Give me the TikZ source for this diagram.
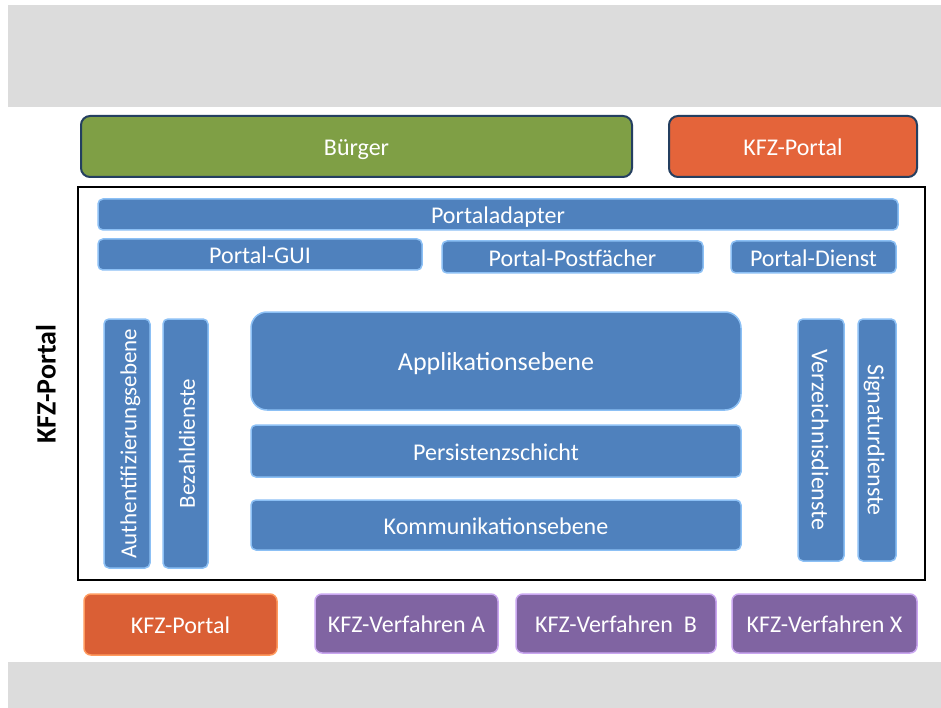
\documentclass[tikz,border=0pt]{standalone}
\usepackage{fontspec}
\setmainfont{Carlito}
\definecolor{bandgray}{HTML}{DCDCDC}
\definecolor{boxblue}{HTML}{4F81BD}
\definecolor{edgeblue}{HTML}{8CC0F5}
\definecolor{navy}{HTML}{243F60}
\definecolor{boxgreen}{HTML}{7F9F45}
\definecolor{boxorange}{HTML}{E4643A}
\definecolor{botorange}{HTML}{DA5F35}
\definecolor{boxpurple}{HTML}{8064A2}
\definecolor{edgepurple}{HTML}{C9A6F0}
\definecolor{edgeorange}{HTML}{FF9A5E}
\tikzset{
  base/.style={inner sep=0pt, text=white, font=\fontsize{24}{28}\selectfont, text height=21.6pt, text depth=3.1pt},
  bluebox/.style={base, fill=boxblue, draw=edgeblue, line width=1.5pt, rounded corners=5pt},
  topbox/.style={base, draw=navy, line width=2pt, rounded corners=9pt},
  botbox/.style={base, line width=1.5pt, rounded corners=7pt},
  vtext/.style={font=\fontsize{23}{27}\selectfont},
}
\begin{document}
\begin{tikzpicture}[x=1pt,y=-1pt]
\useasboundingbox (0,0) rectangle (941,708);
\fill[white] (0,0) rectangle (941,708);
% gray bands
\fill[bandgray] (8,5) rectangle (941,107);
\fill[bandgray] (8,662) rectangle (941,708);
% top boxes
\node[topbox, fill=boxgreen, minimum width=551pt, minimum height=61pt] (buerger) at (356.5,146.5) {Bürger};
\node[topbox, fill=boxorange, minimum width=248pt, minimum height=61pt] (kfztop) at (793,146.5) {KFZ-Portal};
% outer frame
\node[draw=black, line width=2pt, minimum width=847pt, minimum height=393pt, inner sep=0pt] (frame) at (501.5,383.5) {};
\node[rotate=90, font=\fontsize{28}{32}\selectfont\bfseries] (kfzlabel) at (46,384) {KFZ-Portal};
% portal rows
\node[bluebox, minimum width=800pt, minimum height=31pt] (pa) at (498,214.5) {Portaladapter};
\node[bluebox, minimum width=324pt, minimum height=31pt] (gui) at (260,254.5) {Portal-GUI};
\node[bluebox, minimum width=261pt, minimum height=32pt] (post) at (572.5,257) {Portal-Postfächer};
\node[bluebox, minimum width=165pt, minimum height=32pt] (dienst) at (813.5,257) {Portal-Dienst};
% vertical columns
\node[bluebox, vtext, rotate=90, minimum width=249pt, minimum height=46pt] (auth) at (127,443.5) {Authentifizierungsebene};
\node[bluebox, vtext, rotate=90, minimum width=249pt, minimum height=45pt] (bez) at (185.5,443.5) {Bezahldienste};
\node[bluebox, rotate=-90, minimum width=242pt, minimum height=46pt] (verz) at (821,440) {Verzeichnisdienste};
\node[bluebox, rotate=-90, minimum width=242pt, minimum height=38pt] (sig) at (877,440) {Signaturdienste};
% center stack
\node[bluebox, rounded corners=16pt, font=\fontsize{26}{30}\selectfont, minimum width=490pt, minimum height=98pt] (app) at (496,361) {Applikationsebene};
\node[bluebox, minimum width=490pt, minimum height=52pt] (pers) at (496,451) {Persistenzschicht};
\node[bluebox, minimum width=490pt, minimum height=50pt] (komm) at (496,525) {Kommunikationsebene};
% bottom boxes
\node[botbox, fill=botorange, draw=edgeorange, minimum width=193pt, minimum height=61pt] (kfzbot) at (180.5,624.5) {KFZ-Portal};
\node[botbox, fill=boxpurple, draw=edgepurple, minimum width=183pt, minimum height=59pt] (va) at (406.5,623.5) {KFZ-Verfahren A};
\node[botbox, fill=boxpurple, draw=edgepurple, minimum width=200pt, minimum height=59pt] (vb) at (616,623.5) {KFZ-Verfahren\ \ B};
\node[botbox, fill=boxpurple, draw=edgepurple, minimum width=185pt, minimum height=59pt] (vx) at (824.5,623.5) {KFZ-Verfahren X};
\end{tikzpicture}
\end{document}
